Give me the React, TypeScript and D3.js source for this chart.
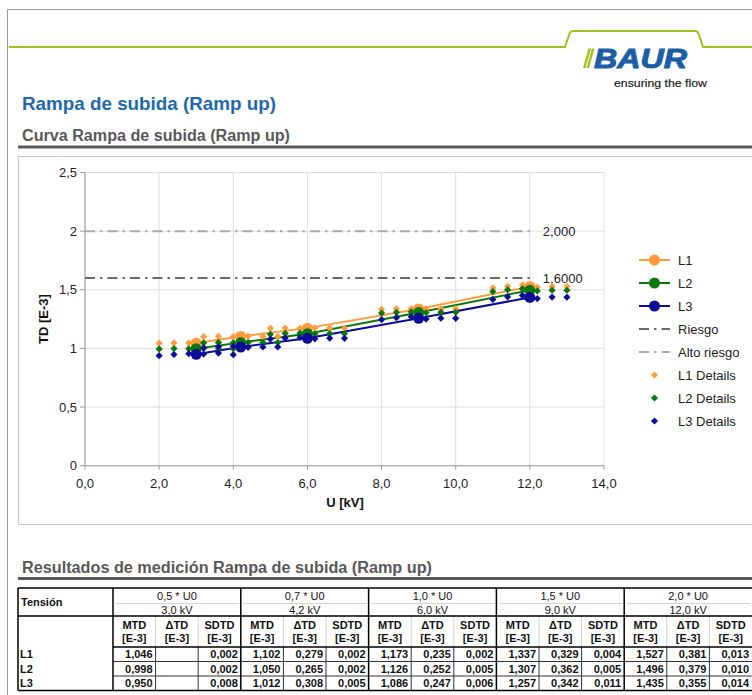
import React from "react";
import * as d3 from "d3";

const FONT = "'Liberation Sans', Arial, Helvetica, sans-serif";

// ---- chart data ----
const stagesU = [3.0, 4.2, 6.0, 9.0, 12.0];
const mtdL1 = [1.046, 1.102, 1.173, 1.337, 1.527];
const mtdL2 = [0.998, 1.05, 1.126, 1.307, 1.496];
const mtdL3 = [0.95, 1.012, 1.086, 1.257, 1.435];

const detailU = [
  [2.0, 2.4, 2.8, 3.2, 3.6, 4.0],
  [3.2, 3.6, 4.0, 4.4, 4.8, 5.2],
  [5.0, 5.4, 5.8, 6.2, 6.6, 7.0],
  [8.0, 8.4, 8.8, 9.2, 9.6, 10.0],
  [11.0, 11.4, 11.8, 12.2, 12.6, 13.0],
];
const detailL1 = [
  [1.044, 1.046, 1.047, 1.045, 1.048, 1.046],
  [1.1, 1.103, 1.101, 1.104, 1.102, 1.102],
  [1.171, 1.174, 1.172, 1.175, 1.173, 1.173],
  [1.333, 1.338, 1.34, 1.335, 1.337, 1.339],
  [1.515, 1.53, 1.54, 1.522, 1.528, 1.527],
];
const detailL2 = [
  [0.996, 0.999, 0.997, 1.0, 0.998, 0.998],
  [1.048, 1.051, 1.049, 1.052, 1.05, 1.05],
  [1.12, 1.128, 1.131, 1.124, 1.126, 1.127],
  [1.301, 1.308, 1.312, 1.304, 1.309, 1.308],
  [1.485, 1.5, 1.508, 1.49, 1.497, 1.496],
];
const detailL3 = [
  [0.938, 0.948, 0.955, 0.952, 0.96, 0.947],
  [1.005, 1.014, 1.018, 1.009, 1.013, 1.013],
  [1.08, 1.088, 1.093, 1.082, 1.087, 1.086],
  [1.245, 1.262, 1.27, 1.25, 1.258, 1.257],
  [1.418, 1.44, 1.452, 1.425, 1.438, 1.437],
];

const riskValue = 1.6;
const highRiskValue = 2.0;
const riskLabel = "1,6000";
const highRiskLabel = "2,000";
const refLineEndU = 12;

const xTicks = [0, 2, 4, 6, 8, 10, 12, 14];
const yTicks = [0, 0.5, 1, 1.5, 2, 2.5];

const seriesNames = ["L1", "L2", "L3"];
const seriesColors = ["#FF9B3D", "#0B780B", "#0C0C98"];
const legendLabels = ["L1", "L2", "L3", "Riesgo", "Alto riesgo", "L1 Details", "L2 Details", "L3 Details"];

// ---- table data ----
const stageFactors = ["0,5 * U0", "0,7 * U0", "1,0 * U0", "1,5 * U0", "2,0 * U0"];
const stageKV = ["3,0 kV", "4,2 kV", "6,0 kV", "9,0 kV", "12,0 kV"];
const deltaL1 = [null, 0.279, 0.235, 0.329, 0.381];
const deltaL2 = [null, 0.265, 0.252, 0.362, 0.379];
const deltaL3 = [null, 0.308, 0.247, 0.342, 0.355];
const sdL1 = [0.002, 0.002, 0.002, 0.004, 0.013];
const sdL2 = [0.002, 0.002, 0.005, 0.005, 0.01];
const sdL3 = [0.008, 0.005, 0.006, 0.011, 0.014];

const fmt3 = (v: number | null) => (v == null ? "" : d3.format(".3f")(v).replace(".", ","));
const fmtX = (v: number) => d3.format(".1f")(v).replace(".", ",");
const fmtY = (v: number) => String(v).replace(".", ",");

const diamond = "M0,-3.6L3.6,0L0,3.6L-3.6,0Z";

export default function App() {
  const x = d3.scaleLinear().domain([0, 14]).range([85, 604]);
  const y = d3.scaleLinear().domain([0, 2.5]).range([465.7, 172.5]);
  const line = d3
    .line<[number, number]>()
    .x((d) => x(d[0]))
    .y((d) => y(d[1]));

  const mtd = [mtdL1, mtdL2, mtdL3];
  const details = [detailL1, detailL2, detailL3];
  const deltas = [deltaL1, deltaL2, deltaL3];
  const sds = [sdL1, sdL2, sdL3];

  // table geometry
  const tX0 = 18;
  const tLabelW = 95;
  const gX0 = tX0 + tLabelW;
  const gW = (752 - gX0) / 5;
  const sW = gW / 3;
  const tTop = 588;
  const r1 = 603;
  const r2 = 616;
  const r3 = 647;
  const rowH = 14.5;
  const tBot = r3 + rowH * 3;

  const legendY0 = 260;
  const legendStep = 23;

  return (
    <svg
      width={752}
      height={695}
      style={{ position: "absolute", left: 0, top: 0, background: "#fff" }}
      fontFamily={FONT}
    >
      <rect x={0} y={0} width={752} height={695} fill="#fff" />
      {/* page frame */}
      <path d="M7.5,695 V9.5 H752" fill="none" stroke="#9a9a9a" strokeWidth={1} />

      {/* header green line */}
      <path
        d="M9,47 H565 L569.5,33.5 Q570.5,31 573,31 H695 Q697.5,31 698.5,33.5 L703,47 H752"
        fill="none"
        stroke="#9CC31E"
        strokeWidth={2}
      />
      {/* logo */}
      <polygon points="588.5,48.5 591,48.5 585.5,68 583,68" fill="#9CC31E" />
      <polygon points="592,48.5 594.5,48.5 589,68 586.5,68" fill="#9CC31E" />
      <text
        x={594}
        y={68}
        fontSize={27}
        fontWeight="bold"
        fontStyle="italic"
        fill="#1B5EA8"
        stroke="#1B5EA8"
        strokeWidth={1}
        textLength={93}
        lengthAdjust="spacingAndGlyphs"
      >
        BAUR
      </text>
      <text x={614} y={87} fontSize={11.5} fill="#222" stroke="#222" strokeWidth={0.2} textLength={93} lengthAdjust="spacingAndGlyphs">
        ensuring the flow
      </text>

      {/* titles */}
      <text x={22} y={110} fontSize={19} fontWeight="bold" fill="#1E68AE" textLength={254} lengthAdjust="spacingAndGlyphs">
        Rampa de subida (Ramp up)
      </text>
      <text x={22} y={141} fontSize={16} fontWeight="bold" fill="#595959" textLength={268} lengthAdjust="spacingAndGlyphs">
        Curva Rampa de subida (Ramp up)
      </text>
      <line x1={18} x2={752} y1={147} y2={147} stroke="#595959" strokeWidth={3} />

      {/* chart frame */}
      <path d="M752,156.5 H18.5 V524.5 H752" fill="none" stroke="#c8c8c8" strokeWidth={1} />

      {/* grid */}
      {xTicks.map((t) => (
        <line key={"gx" + t} x1={x(t)} x2={x(t)} y1={y(2.5)} y2={y(0)} stroke="#dedede" strokeWidth={1} />
      ))}
      {yTicks.map((t) => (
        <line key={"gy" + t} x1={x(0)} x2={x(14)} y1={y(t)} y2={y(t)} stroke="#dedede" strokeWidth={1} />
      ))}
      {/* axes */}
      <line x1={x(0)} x2={x(0)} y1={y(2.5)} y2={y(0)} stroke="#9a9a9a" />
      <line x1={x(0)} x2={x(14)} y1={y(0)} y2={y(0)} stroke="#9a9a9a" />
      {yTicks.map((t) => (
        <g key={"yt" + t}>
          <line x1={x(0) - 5} x2={x(0)} y1={y(t)} y2={y(t)} stroke="#9a9a9a" />
          <text x={x(0) - 8} y={y(t)} dy="0.35em" textAnchor="end" fontSize={13} fill="#222">
            {fmtY(t)}
          </text>
        </g>
      ))}
      {xTicks.map((t) => (
        <g key={"xt" + t}>
          <line x1={x(t)} x2={x(t)} y1={y(0)} y2={y(0) + 4} stroke="#9a9a9a" />
          <text x={x(t)} y={y(0) + 18} dy="0.35em" textAnchor="middle" fontSize={13} fill="#222">
            {fmtX(t)}
          </text>
        </g>
      ))}
      <text
        transform={`translate(48,${y(1.25)}) rotate(-90)`}
        textAnchor="middle"
        fontSize={13}
        fontWeight="bold"
        fill="#111"
      >
        TD [E-3]
      </text>
      <text x={345} y={502} dy="0.35em" textAnchor="middle" fontSize={13} fontWeight="bold" fill="#111">
        U [kV]
      </text>

      {/* main series */}
      {mtd.map((vals, i) => (
        <g key={"s" + i}>
          <path
            d={line(stagesU.map((u, j) => [u, vals[j]] as [number, number])) || ""}
            fill="none"
            stroke={seriesColors[i]}
            strokeWidth={2}
          />
          {vals.map((v, j) => (
            <circle key={j} cx={x(stagesU[j])} cy={y(v)} r={5.5} fill={seriesColors[i]} />
          ))}
        </g>
      ))}

      {/* reference lines */}
      <line
        x1={x(0)}
        x2={x(refLineEndU)}
        y1={y(riskValue)}
        y2={y(riskValue)}
        stroke="#6b6b6b"
        strokeWidth={2}
        strokeDasharray="10,5,2.5,5"
      />
      <line
        x1={x(0)}
        x2={x(refLineEndU)}
        y1={y(highRiskValue)}
        y2={y(highRiskValue)}
        stroke="#ababab"
        strokeWidth={2}
        strokeDasharray="10,5,2.5,5"
      />
      <text x={x(refLineEndU) + 13} y={y(highRiskValue)} dy="0.35em" fontSize={13} fill="#222">
        {highRiskLabel}
      </text>
      <text x={x(refLineEndU) + 13} y={y(riskValue)} dy="0.35em" fontSize={13} fill="#222">
        {riskLabel}
      </text>

      {/* details */}
      {details.map((stages, i) => (
        <g key={"d" + i} fill={seriesColors[i]}>
          {stages.map((vals, j) =>
            vals.map((v, k) => (
              <path key={j + "-" + k} d={diamond} transform={`translate(${x(detailU[j][k])},${y(v)})`} />
            ))
          )}
        </g>
      ))}

      {/* legend */}
      {legendLabels.map((lab, i) => {
        const ly = legendY0 + i * legendStep;
        let sample: React.ReactNode = null;
        if (i < 3) {
          sample = (
            <g>
              <line x1={639} x2={670} y1={ly} y2={ly} stroke={seriesColors[i]} strokeWidth={2} />
              <circle cx={654.5} cy={ly} r={5.5} fill={seriesColors[i]} />
            </g>
          );
        } else if (i < 5) {
          sample = (
            <line
              x1={639}
              x2={670}
              y1={ly}
              y2={ly}
              stroke={i === 3 ? "#6b6b6b" : "#ababab"}
              strokeWidth={2}
              strokeDasharray="10,5,2.5,5"
            />
          );
        } else {
          sample = <path d={diamond} transform={`translate(654.5,${ly})`} fill={seriesColors[i - 5]} />;
        }
        return (
          <g key={"lg" + i}>
            {sample}
            <text x={678} y={ly} dy="0.35em" fontSize={13} fill="#222">
              {lab}
            </text>
          </g>
        );
      })}

      {/* results section */}
      <text x={22} y={573} fontSize={16} fontWeight="bold" fill="#595959" textLength={410} lengthAdjust="spacingAndGlyphs">
        Resultados de medición Rampa de subida (Ramp up)
      </text>
      <line x1={18} x2={752} y1={578.5} y2={578.5} stroke="#595959" strokeWidth={3} />

      {/* table */}
      <g fontSize={11} fill="#111">
        <text x={21} y={(tTop + r2) / 2} dy="0.35em" fontWeight="bold">
          Tensión
        </text>
        {stageFactors.map((f, g) => {
          const gx = gX0 + g * gW;
          return (
            <g key={"hg" + g}>
              <text x={gx + gW / 2} y={(tTop + r1) / 2 + 1} dy="0.35em" textAnchor="middle">
                {f}
              </text>
              <text x={gx + gW / 2} y={(r1 + r2) / 2 + 1} dy="0.35em" textAnchor="middle">
                {stageKV[g]}
              </text>
              <line x1={gx + 2} x2={gx + gW - 2} y1={r1 + 0.5} y2={r1 + 0.5} stroke="#d5d5d5" />
              {["MTD", "\u0394TD", "SDTD"].map((h, s) => (
                <g key={s}>
                  <text x={gx + s * sW + sW / 2} y={r2 + 9} dy="0.35em" textAnchor="middle" fontWeight="bold">
                    {h}
                  </text>
                  <text x={gx + s * sW + sW / 2} y={r2 + 22} dy="0.35em" textAnchor="middle" fontWeight="bold">
                    [E-3]
                  </text>
                  {s > 0 && <line x1={gx + s * sW} x2={gx + s * sW} y1={r2} y2={r3} stroke="#cfcfcf" />}
                  {s > 0 && <line x1={gx + s * sW} x2={gx + s * sW} y1={r3} y2={tBot} stroke="#333" />}
                </g>
              ))}
            </g>
          );
        })}
        {seriesNames.map((n, i) => {
          const ry = r3 + i * rowH;
          return (
            <g key={"row" + i}>
              <text x={20} y={ry + rowH / 2} dy="0.35em" fontWeight="bold">
                {n}
              </text>
              {stagesU.map((_, g) => {
                const gx = gX0 + g * gW;
                const vals = [mtd[i][g], deltas[i][g], sds[i][g]];
                return vals.map((v, s) => (
                  <text
                    key={g + "-" + s}
                    x={gx + (s + 1) * sW - 3}
                    y={ry + rowH / 2}
                    dy="0.35em"
                    textAnchor="end"
                    fontWeight="bold"
                  >
                    {fmt3(v)}
                  </text>
                ));
              })}
              {i > 0 && <line x1={gX0} x2={752} y1={ry} y2={ry} stroke="#333" />}
            </g>
          );
        })}
        {/* borders */}
        <line x1={tX0} x2={752} y1={tTop} y2={tTop} stroke="#000" strokeWidth={1.5} />
        <line x1={tX0} x2={752} y1={r2} y2={r2} stroke="#000" strokeWidth={1.5} />
        <line x1={gX0} x2={752} y1={r3} y2={r3} stroke="#000" strokeWidth={1.5} />
        <line x1={tX0} x2={752} y1={tBot} y2={tBot} stroke="#000" strokeWidth={1.5} />
        <line x1={tX0} x2={tX0} y1={tTop} y2={tBot} stroke="#000" strokeWidth={1.5} />
        {stagesU.map((_, g) => (
          <line
            key={"gl" + g}
            x1={gX0 + g * gW}
            x2={gX0 + g * gW}
            y1={tTop}
            y2={tBot}
            stroke="#000"
            strokeWidth={1.5}
          />
        ))}
      </g>
    </svg>
  );
}
